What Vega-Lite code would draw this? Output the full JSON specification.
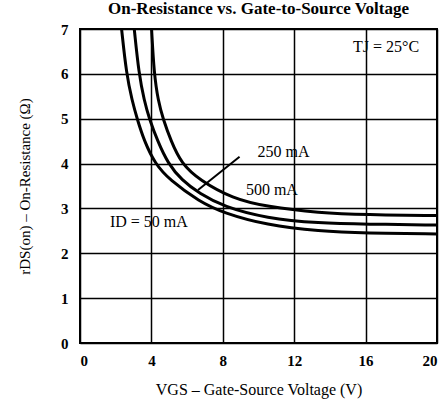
{
  "$schema": "https://vega.github.io/schema/vega-lite/v6.json",
  "width": 357,
  "height": 314,
  "autosize": {"type": "none"},
  "padding": {"left": 80, "top": 29, "right": 3, "bottom": 64},
  "background": "white",
  "title": {
    "text": "On-Resistance vs. Gate-to-Source Voltage",
    "font": "Liberation Serif",
    "fontSize": 17,
    "fontWeight": "bold",
    "color": "black",
    "anchor": "middle",
    "offset": 4
  },
  "config": {
    "view": {"stroke": "black", "strokeWidth": 2},
    "axis": {
      "grid": true,
      "gridColor": "black",
      "gridOpacity": 1,
      "gridWidth": 1.5,
      "domain": false,
      "ticks": false,
      "labelFont": "Liberation Serif",
      "labelFontSize": 15,
      "labelFontWeight": "bold",
      "labelColor": "black",
      "titleFont": "Liberation Serif",
      "titleFontWeight": "normal",
      "titleColor": "black"
    }
  },
  "datasets": {
    "curves": [
      {"id": "50 mA", "vgs": 2.33, "r": 7},
      {"id": "50 mA", "vgs": 2.6, "r": 6},
      {"id": "50 mA", "vgs": 2.92, "r": 5.4},
      {"id": "50 mA", "vgs": 3.2, "r": 5},
      {"id": "50 mA", "vgs": 3.6, "r": 4.5},
      {"id": "50 mA", "vgs": 4.2, "r": 4},
      {"id": "50 mA", "vgs": 5.0, "r": 3.64},
      {"id": "50 mA", "vgs": 6.7, "r": 3.15},
      {"id": "50 mA", "vgs": 8.04, "r": 2.9},
      {"id": "50 mA", "vgs": 10.43, "r": 2.63},
      {"id": "50 mA", "vgs": 13.41, "r": 2.49},
      {"id": "50 mA", "vgs": 16.0, "r": 2.45},
      {"id": "50 mA", "vgs": 20.0, "r": 2.43},
      {"id": "250 mA", "vgs": 3.04, "r": 7},
      {"id": "250 mA", "vgs": 3.3, "r": 6},
      {"id": "250 mA", "vgs": 3.6, "r": 5.4},
      {"id": "250 mA", "vgs": 3.88, "r": 5},
      {"id": "250 mA", "vgs": 4.35, "r": 4.5},
      {"id": "250 mA", "vgs": 4.93, "r": 4},
      {"id": "250 mA", "vgs": 5.7, "r": 3.63},
      {"id": "250 mA", "vgs": 6.7, "r": 3.33},
      {"id": "250 mA", "vgs": 8.04, "r": 3.04},
      {"id": "250 mA", "vgs": 10.43, "r": 2.78},
      {"id": "250 mA", "vgs": 13.41, "r": 2.67},
      {"id": "250 mA", "vgs": 16.0, "r": 2.65},
      {"id": "250 mA", "vgs": 20.0, "r": 2.63},
      {"id": "500 mA", "vgs": 4.01, "r": 7},
      {"id": "500 mA", "vgs": 4.15, "r": 6},
      {"id": "500 mA", "vgs": 4.38, "r": 5.4},
      {"id": "500 mA", "vgs": 4.65, "r": 5},
      {"id": "500 mA", "vgs": 5.1, "r": 4.5},
      {"id": "500 mA", "vgs": 5.68, "r": 4},
      {"id": "500 mA", "vgs": 6.7, "r": 3.63},
      {"id": "500 mA", "vgs": 8.55, "r": 3.22},
      {"id": "500 mA", "vgs": 10.43, "r": 3.04},
      {"id": "500 mA", "vgs": 13.41, "r": 2.9},
      {"id": "500 mA", "vgs": 16.0, "r": 2.86},
      {"id": "500 mA", "vgs": 20.0, "r": 2.84}
    ],
    "labels": [
      {"label": "TJ = 25°C", "vgs": 17.15, "r": 6.6},
      {"label": "250 mA", "vgs": 11.4, "r": 4.26},
      {"label": "500 mA", "vgs": 10.75, "r": 3.42},
      {"label": "ID = 50 mA", "vgs": 3.86, "r": 2.69}
    ],
    "arrow": [
      {"x1": 8.94, "y1": 4.15, "x2": 6.61, "y2": 3.41}
    ]
  },
  "layer": [
    {
      "data": {"name": "curves"},
      "mark": {"type": "line", "stroke": "black", "strokeWidth": 3, "interpolate": "basis", "clip": true},
      "encoding": {
        "x": {
          "field": "vgs", "type": "quantitative",
          "scale": {"domain": [0, 20], "nice": false},
          "axis": {"values": [0, 4, 8, 12, 16, 20], "labelPadding": 10, "title": "VGS – Gate-Source Voltage (V)", "titleFontSize": 16, "titlePadding": 13}
        },
        "y": {
          "field": "r", "type": "quantitative",
          "scale": {"domain": [0, 7], "nice": false},
          "axis": {"values": [0, 1, 2, 3, 4, 5, 6, 7], "labelPadding": 12, "title": "rDS(on) – On-Resistance (Ω)", "titleFontSize": 15, "titlePadding": 28}
        },
        "detail": {"field": "id"},
        "order": {"field": "vgs", "type": "quantitative"}
      }
    },
    {
      "data": {"name": "labels"},
      "mark": {"type": "text", "font": "Liberation Serif", "fontSize": 16, "color": "black", "align": "center", "baseline": "middle"},
      "encoding": {
        "x": {"field": "vgs", "type": "quantitative"},
        "y": {"field": "r", "type": "quantitative"},
        "text": {"field": "label"}
      }
    },
    {
      "data": {"name": "arrow"},
      "mark": {"type": "rule", "color": "black", "strokeWidth": 2},
      "encoding": {
        "x": {"field": "x1", "type": "quantitative"},
        "y": {"field": "y1", "type": "quantitative"},
        "x2": {"field": "x2"},
        "y2": {"field": "y2"}
      }
    }
  ]
}
